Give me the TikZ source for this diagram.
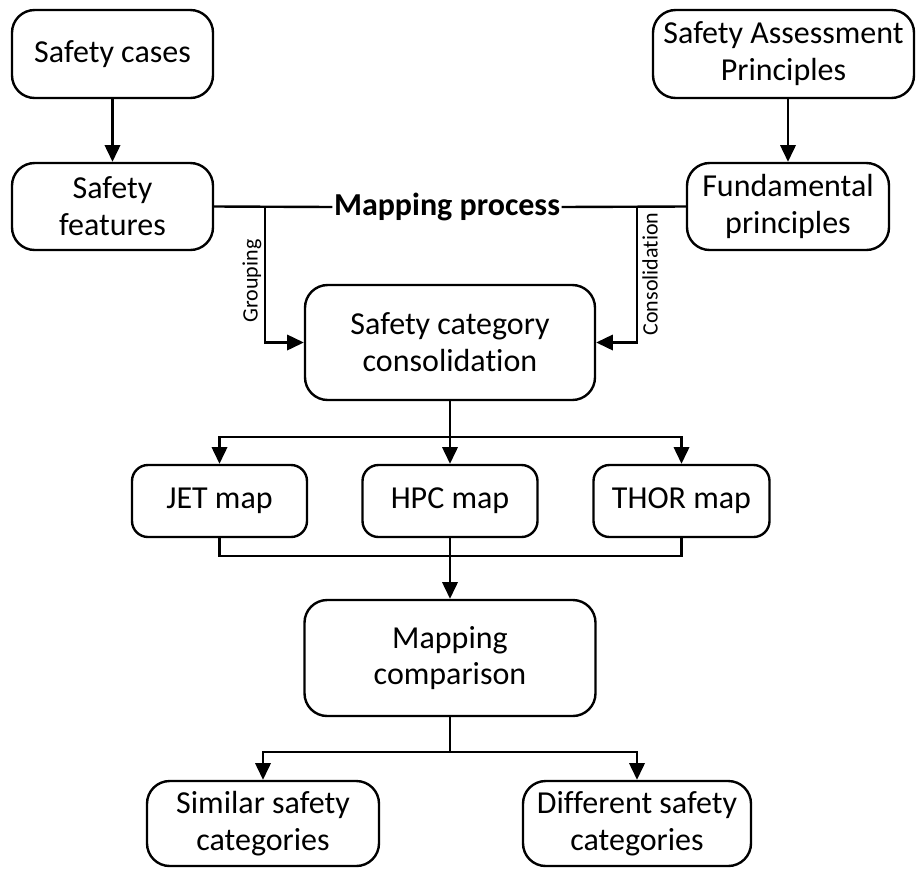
\documentclass[tikz,border=0pt]{standalone}
\usepackage{fontspec}
\setmainfont{Carlito}[Ligatures=NoCommon]
\usetikzlibrary{arrows.meta}
\begin{document}
\begin{tikzpicture}[x=0.75pt,y=-0.75pt,
  box/.style={draw=black,line width=1.8pt,rounded corners=17pt,align=center,
    font=\fontsize{24}{27.6}\selectfont,inner sep=0pt},
  mapbox/.style={box,rounded corners=12pt},
  line/.style={draw=black,line width=1.8pt},
  arr/.style={line,-{Triangle[width=11.5pt,length=12.5pt]}},
  lbl/.style={font=\fontsize{16.5}{18}\selectfont,rotate=90,inner sep=0pt}]
\useasboundingbox (0,0) rectangle (916,868);
\node[box,minimum width=150.75pt,minimum height=66pt] (sc) at (112.5,54) {Safety cases};
\node[box,minimum width=150.75pt,minimum height=65.25pt] (sf) at (112.5,206.5) {Safety\\features};
\node[box,minimum width=195.75pt,minimum height=66pt] (sap) at (783.5,54) {Safety Assessment\\Principles};
\node[box,minimum width=151.5pt,minimum height=65.25pt] (fp) at (788,206.5) {Fundamental\\principles};
\node[font=\fontsize{24}{27.6}\selectfont\bfseries,inner sep=1pt] (mp) at (447,207) {Mapping process};
\node[box,minimum width=217.5pt,minimum height=86.25pt] (scc) at (450,342.5) {Safety category\\consolidation};
\node[mapbox,minimum width=131.25pt,minimum height=54pt] (jet) at (219.5,501) {JET map};
\node[mapbox,minimum width=131.25pt,minimum height=54pt] (hpc) at (450,501) {HPC map};
\node[mapbox,minimum width=132pt,minimum height=54pt] (thor) at (681.5,501) {THOR map};
\node[box,minimum width=218.25pt,minimum height=87pt] (mc) at (450,658) {Mapping\\comparison};
\node[box,minimum width=174pt,minimum height=63.75pt] (sim) at (263,823.5) {Similar safety\\categories};
\node[box,minimum width=171pt,minimum height=63.75pt] (dif) at (637,823.5) {Different safety\\categories};
\node[lbl] (lg) at (252,281) {Grouping};
\node[lbl] (lc) at (650,274) {Consolidation};
\coordinate (g1) at (265,207);
\coordinate (c1) at (637,207);
\coordinate (d) at (450,437);
\coordinate (m) at (450,556);
\coordinate (s) at (450,752);
\draw[arr] (sc) -- (sf);
\draw[arr] (sap.south -| fp.north) -- (fp.north);
\draw[line] (sf.east) -- (mp.west);
\draw[line] (mp.east) -- (fp.west);
\draw[arr] (g1) |- (scc.west);
\draw[arr] (c1) |- (scc.east);
\draw[line] (scc.south) -- (d);
\draw[arr] (d) -| (jet.north);
\draw[arr] (d) -| (thor.north);
\draw[arr] (d) -- (hpc.north);
\draw[line] (jet.south) |- (m);
\draw[line] (thor.south) |- (m);
\draw[arr] (hpc.south) -- (mc.north);
\draw[line] (mc.south) -- (s);
\draw[arr] (s) -| (sim.north);
\draw[arr] (s) -| (dif.north);
\end{tikzpicture}
\end{document}
